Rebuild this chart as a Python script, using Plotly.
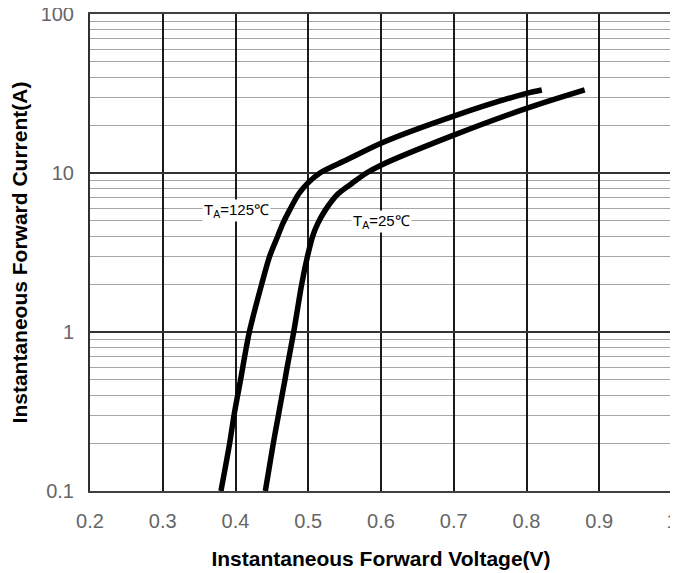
import plotly.graph_objects as go

# Data (forward voltage in V, current in A)
v_125 = [0.380, 0.392, 0.398, 0.403, 0.407, 0.410, 0.419, 0.436, 0.447, 0.458,
         0.465, 0.474, 0.487, 0.499, 0.516, 0.553, 0.600, 0.700, 0.800, 0.821]
i_125 = [0.1, 0.2, 0.3, 0.4, 0.5, 0.6, 1.0, 2.0, 3.0, 4.0,
         4.8, 5.8, 7.4, 8.6, 10.0, 12.1, 15.4, 22.8, 31.7, 33.3]

v_25 = [0.441, 0.452, 0.459, 0.464, 0.468, 0.471, 0.480, 0.491, 0.499, 0.506,
        0.513, 0.523, 0.541, 0.560, 0.580, 0.600, 0.700, 0.800, 0.880]
i_25 = [0.1, 0.2, 0.3, 0.4, 0.5, 0.6, 1.0, 2.0, 3.0, 4.0,
        4.8, 5.8, 7.4, 8.6, 10.0, 11.2, 17.3, 25.5, 33.3]

x_ticks = [0.2, 0.3, 0.4, 0.5, 0.6, 0.7, 0.8, 0.9, 1.0]
x_ticktext = ["0.2", "0.3", "0.4", "0.5", "0.6", "0.7", "0.8", "0.9", "1"]
y_ticks = [0.1, 1, 10, 100]
y_ticktext = ["0.1", "1", "10", "100"]

labels = ["T<sub>A</sub>=125℃", "T<sub>A</sub>=25℃"]
label_pos = [(0.402, 0.767), (0.600, 0.692)]  # (V, log10 I)

fig = go.Figure()
for v, i in [(v_125, i_125), (v_25, i_25)]:
    fig.add_trace(go.Scatter(
        x=v, y=i, mode="lines",
        line=dict(color="black", width=5.5, shape="spline", smoothing=0.8),
        showlegend=False, hoverinfo="skip",
    ))

for text, (lx, ly) in zip(labels, label_pos):
    fig.add_annotation(
        x=lx, y=ly, xref="x", yref="y", text=text, showarrow=False,
        font=dict(family="Liberation Sans, Arial", size=15, color="black"),
        bgcolor="white", borderpad=1,
    )

# page body adds an 8px offset; margins compensate for it
fig.update_layout(
    width=670, height=565,
    margin=dict(l=82, r=6, t=6, b=82),
    paper_bgcolor="white", plot_bgcolor="white",
    font=dict(family="Liberation Sans, Arial", color="#595959"),
)

fig.update_xaxes(
    range=[0.2, 1.0], automargin=False, ticklabeloverflow="allow",
    tickvals=x_ticks, ticktext=x_ticktext,
    tickfont=dict(size=20, color="#666666"),
    ticks="outside", ticklen=11, tickcolor="rgba(0,0,0,0)",
    showgrid=True, gridcolor="#1a1a1a", gridwidth=1.5,
    showline=True, linecolor="#404040", linewidth=2, mirror=True,
    zeroline=False,
    title=dict(text="<b>Instantaneous Forward Voltage(V)</b>",
               font=dict(size=21, color="black"), standoff=20),
)

fig.update_yaxes(
    type="log", range=[-1, 2], automargin=False, ticklabeloverflow="allow",
    tickvals=y_ticks, ticktext=y_ticktext,
    tickfont=dict(size=20, color="#666666"),
    ticks="outside", ticklen=10, tickcolor="rgba(0,0,0,0)",
    showgrid=True, gridcolor="#333333", gridwidth=1.5,
    minor=dict(dtick="D1", showgrid=True, gridcolor="#a6a6a6", gridwidth=1.2,
               ticks=""),
    showline=True, linecolor="#303030", linewidth=2, mirror=True,
    zeroline=False,
    title=dict(text="<b>Instantaneous Forward Current(A)</b>",
               font=dict(size=21, color="black"), standoff=22),
)

fig.write_html("out.html")
